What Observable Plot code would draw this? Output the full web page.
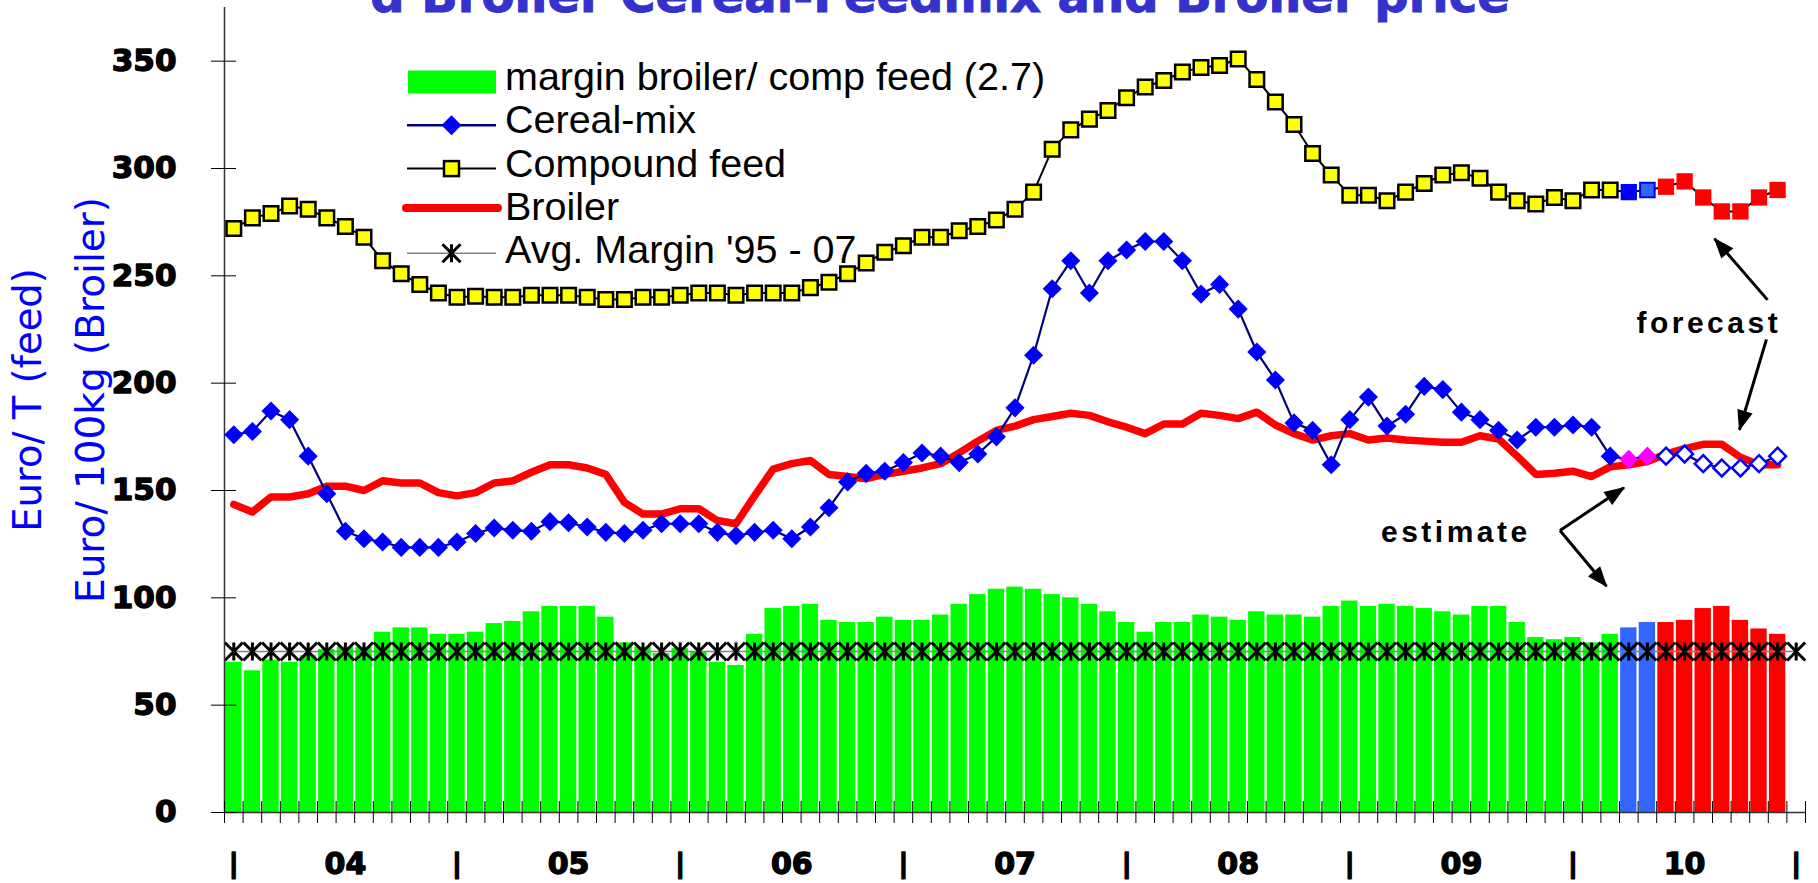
<!DOCTYPE html>
<html><head><meta charset="utf-8">
<script src="https://cdn.jsdelivr.net/npm/d3@7"></script>
<script src="https://cdn.jsdelivr.net/npm/@observablehq/plot@0.6"></script>
<style>
html,body{margin:0;padding:0;background:#fff;}
#wrap{position:relative;width:1818px;height:883px;overflow:hidden;}
#overlay{position:absolute;left:0;top:0;pointer-events:none;}
</style></head><body><div id="wrap"></div>
<script>
// ---------------- data (monthly, Jan 2004 .. Dec 2010) ----------------
const marginBroiler = [70,66,71,70,73,76,77,77,84,86, 86,83,83,84,88,89,93.5,96,96,96,
  91,79,77,74,76.5,75,70,68.5,83,95, 96,97,89.5,88.5,88.5,91,89.5,89.5,92,97,
  101.5,104,105,104,101.5,100,97,93.5,88.5,84, 88.5,88.5,92,91,89.5,93.5,92,92,91,96,
  98.5,96,97,96,95,93.5,92,96,96,88.5, 81.5,80.5,81.5,79,83,86,88.5,88.5,89.5,95,
  96,89.5,85.5,83];
const compoundFeed = [272,277,279,282.5,281,277,273,268,257,251, 246,242,240,240.5,240,240,241,241,241,240,
  239,239,240,240,241,242,242,241,242,242, 242,244.5,247,251,256,261,264,268,268,271,
  273,276,281,289,309,318,323,327,333,338, 341,345,347,348,351,341.5,331,320.5,307,297,
  287.5,287.5,285,289,293,297,298,295.5,289,285, 283.5,286.5,285,290,290,289,290,291.5,294,286.5,
  280,280,286.5,290];
const cerealMix = [176,177.5,187,183,166,148.5,131,127.5,126,123.5, 123.5,123.5,126,130,132.5,131.5,131,135.5,135,133,
  130.5,130,131.5,134.5,134.5,134.5,130.5,129,130.5,131.5, 127.5,133,142,154,158,159,163,167.5,166,163,
  167,175,188.5,213,244,257,242,257,262,266, 266,257,241.5,246,234.5,214.5,201.5,181.5,178,162,
  183,193.5,180,185.5,198.5,197,186.5,183,178,173.5, 179.5,179.5,180.5,179.5,166,164.5,166,166,167,162.5,
  160.5,160.5,162.5,166];
const broilerPrice = [143.5,140,147,147,148.5,152,152,150,154.5,153.5, 153.5,149,147.5,149,153.5,154.5,158.5,162,162,160.5,
  157.5,144.5,139,139,141.5,141.5,136,134.5,147.5,160, 162.5,164,157.5,156.5,155.5,157.5,159,160.5,162.5,167.5,
  173,178,180,183,184.5,186,185,182,179.5,176.5, 181,181,186,185,183.5,186.5,180.5,176.5,173.5,175.5,
  176.5,173.5,174.5,173.5,173,172.5,172.5,175.5,174,166, 157.5,158,159,156.5,161,162,163.5,167,169.5,171.5,
  171.5,165.5,162,162];
const avgMargin = 75;                       // Avg. Margin '95 - 07
const estimateMonths = ["2010-04", "2010-05"];
const forecastStart = "2010-06";
const firstYear = 2004, lastAxisMonth = "2011-01";

const yTicks = [0, 50, 100, 150, 200, 250, 300, 350];
const yearLabels = ["04", "05", "06", "07", "08", "09", "10"];

const legendItems = ["margin broiler/ comp feed (2.7)", "Cereal-mix", "Compound feed", "Broiler", "Avg. Margin '95 - 07"];
const titleText = "d Broiler Cereal-Feedmix and Broiler price";
const yLabels = ["Euro/ T (feed)", "Euro/ 100kg (Broiler)"];

// annotation positions (x in month slots, y in chart units)
const notes = [{text: "forecast", x: 79.8, y: 228}, {text: "estimate", x: 66.2, y: 130.3}];
const arrows = [
  {x1: 82.96, y1: 238.8, x2: 80.11, y2: 267.3},
  {x1: 82.9, y1: 220.4, x2: 81.45, y2: 178.3},
  {x1: 71.8, y1: 131.4, x2: 75.24, y2: 151.3},
  {x1: 71.8, y1: 131.4, x2: 74.3, y2: 105.4}
];

// ---------------- derived ----------------
const monthKey = i => `${firstYear + Math.floor(i / 12)}-${String(i % 12 + 1).padStart(2, "0")}`;
const months = marginBroiler.map((_, i) => monthKey(i));
let nSlots = 0; while (monthKey(nSlots) <= lastAxisMonth) nSlots++;   // 85 slots on the axis
const data = months.map((m, i) => ({
  m, i,
  margin: marginBroiler[i], compound: compoundFeed[i], cereal: cerealMix[i], broiler: broilerPrice[i],
  status: estimateMonths.includes(m) ? "estimate" : (m >= forecastStart ? "forecast" : "actual")
}));
const slots = d3.range(nSlots).map(i => ({i, avg: avgMargin}));
const X = d => d.i + 0.5;
const isA = d => d.status === "actual", isE = d => d.status === "estimate", isF = d => d.status === "forecast";

const W = 1818, H = 883, mL = 224, mR = 13, mT = 7, mB = 71;
const xDomain = [0, nSlots], yDomain = [0, 375];
const sx = Plot.scale({x: {type: "linear", domain: xDomain, range: [mL, W - mR]}});
const sy = Plot.scale({y: {type: "linear", domain: yDomain, range: [H - mB, mT]}});
arrows.forEach(a => {
  const dx = sx.apply(a.x2) - sx.apply(a.x1), dy = sy.apply(a.y2) - sy.apply(a.y1);
  a.angle = Math.atan2(dx, -dy) * 180 / Math.PI;
});

const asterisk = {draw(ctx, size) {
  const r = Math.sqrt(size / Math.PI);
  ctx.moveTo(-r, -r); ctx.lineTo(r, r);
  ctx.moveTo(-r, r); ctx.lineTo(r, -r);
  ctx.moveTo(0, -r); ctx.lineTo(0, r);
}};
// filled arrowhead with its tip at the origin, pointing up
const arrowHead = {draw(ctx, size) {
  const r = Math.sqrt(size / Math.PI);
  ctx.moveTo(0, 0);
  ctx.lineTo(-0.4 * r, 1.05 * r);
  ctx.lineTo(0.4 * r, 1.05 * r);
  ctx.closePath();
}};

const axisColor = "#333";
const sepTicks = d3.range(0, nSlots, 12).map(i => i + 0.5);
const yearTicks = yearLabels.map((_, k) => k * 12 + 6.5);
const yearMap = new Map(yearTicks.map((t, k) => [t, yearLabels[k]]));

const chart = Plot.plot({
  width: W, height: H,
  marginLeft: mL, marginRight: mR, marginTop: mT, marginBottom: mB,
  style: {fontFamily: "DejaVu Sans", background: "white"},
  x: {type: "linear", domain: xDomain},
  y: {type: "linear", domain: yDomain},
  marks: [
    // bars
    Plot.rect(data, {filter: isA, x1: d => d.i + 0.06, x2: d => d.i + 0.94, y1: 0, y2: "margin", fill: "#00ff00"}),
    Plot.rect(data, {filter: isE, x1: d => d.i + 0.06, x2: d => d.i + 0.94, y1: 0, y2: "margin", fill: "#3366ff"}),
    Plot.rect(data, {filter: isF, x1: d => d.i + 0.06, x2: d => d.i + 0.94, y1: 0, y2: "margin", fill: "#ff0000"}),
    // average margin
    Plot.line(slots, {x: X, y: "avg", stroke: "#808080", strokeWidth: 1.5}),
    Plot.dot(slots, {x: X, y: "avg", symbol: asterisk, r: 9, fill: "none", stroke: "#000", strokeWidth: 3}),
    // axes
    Plot.ruleX([0], {stroke: axisColor, strokeWidth: 1.5}),
    Plot.ruleY([0], {stroke: axisColor, strokeWidth: 1.5}),
    Plot.axisY({ticks: yTicks, tickSize: 13, tickPadding: 35, fontSize: 31, fontWeight: "bold", color: "#000", label: null}),
    Plot.axisY({ticks: yTicks, tickSize: -12, tickFormat: () => "", color: "#000", label: null}),
    Plot.axisX({ticks: d3.range(0, nSlots + 1), tickSize: 11, tickFormat: () => "", color: "#000", label: null}),
    Plot.axisX({ticks: d3.range(0, nSlots + 1), tickSize: -11, tickFormat: () => "", color: "#000", label: null}),
    Plot.axisX({ticks: yearTicks, tickSize: 0, tickPadding: 40, tickFormat: d => yearMap.get(d), fontSize: 30, fontWeight: "bold", color: "#000", label: null}),
    Plot.axisX({ticks: sepTicks, tickSize: 0, tickPadding: 40, tickFormat: () => "|", fontSize: 27, fontWeight: "bold", color: "#000", label: null}),
    // compound feed
    Plot.line(data, {x: X, y: "compound", stroke: "#000", strokeWidth: 2}),
    Plot.dot(data, {filter: isA, x: X, y: "compound", symbol: "square", r: 8.2, fill: "#ffff00", stroke: "#000", strokeWidth: 2.5}),
    Plot.dot(data, {filter: d => d.m === estimateMonths[0], x: X, y: "compound", symbol: "square", r: 9.2, fill: "#0000ff"}),
    Plot.dot(data, {filter: d => d.m === estimateMonths[1], x: X, y: "compound", symbol: "square", r: 8.2, fill: "#3366ff", stroke: "#0000ff", strokeWidth: 2}),
    Plot.dot(data, {filter: isF, x: X, y: "compound", symbol: "square", r: 9.2, fill: "#ff0000"}),
    // broiler
    Plot.line(data, {x: X, y: "broiler", stroke: "#ff0000", strokeWidth: 7.5, strokeLinejoin: "round"}),
    // cereal-mix
    Plot.line(data, {x: X, y: "cereal", stroke: "#000080", strokeWidth: 2.2}),
    Plot.dot(data, {filter: isA, x: X, y: "cereal", symbol: "diamond2", r: 8.6, fill: "#0000ff"}),
    Plot.dot(data, {filter: isE, x: X, y: "cereal", symbol: "diamond2", r: 8.6, fill: "#ff00ff"}),
    Plot.dot(data, {filter: isF, x: X, y: "cereal", symbol: "diamond2", r: 7.6, fill: "#fff", stroke: "#0000ff", strokeWidth: 2.5}),
    // annotations
    Plot.link(arrows, {x1: "x1", y1: "y1", x2: "x2", y2: "y2", stroke: "#000", strokeWidth: 3}),
    Plot.dot(arrows, {x: "x2", y: "y2", rotate: "angle", symbol: arrowHead, r: 18, fill: "#000", stroke: "#000", strokeWidth: 1}),
    Plot.text(notes, {x: "x", y: "y", text: "text", fontSize: 30, fontWeight: "bold", fontFamily: "Liberation Sans, Arial, sans-serif", fill: "#000"})
  ]
});
d3.select(chart).selectAll("text").filter(function() { return notes.some(n => n.text === this.textContent); })
  .attr("letter-spacing", 3.5);
// heavier tick labels
d3.select(chart).selectAll('g[aria-label="y-axis tick label"] text, g[aria-label="x-axis tick label"] text')
  .attr("stroke", "#000").attr("stroke-width", 1.4).attr("stroke-linejoin", "round");

const wrap = document.getElementById("wrap");
wrap.appendChild(chart);

// ---------------- overlay: title, y labels, legend ----------------
const svg = d3.select(wrap).append("svg").attr("id", "overlay").attr("width", W).attr("height", H);
svg.append("text").attr("x", 940).attr("y", 12).attr("text-anchor", "middle")
  .attr("font-family", "DejaVu Sans").attr("font-weight", "bold").attr("font-size", 48).attr("fill", "#3333cc")
  .attr("stroke", "#3333cc").attr("stroke-width", 1).text(titleText);
[[41, yLabels[0], 38.5], [104, yLabels[1], 39]].forEach(([x, t, fs]) => {
  svg.append("text").attr("transform", `translate(${x},400) rotate(-90)`).attr("text-anchor", "middle")
    .attr("font-family", "DejaVu Sans").attr("font-size", fs).attr("fill", "#0000ff").text(t);
});
const lg = svg.append("g");
const rowY = k => 82 + k * 43.3;
legendItems.forEach((t, k) => {
  lg.append("text").attr("x", 505).attr("y", rowY(k) + 8).attr("font-family", "Liberation Sans, Arial, sans-serif")
    .attr("font-size", 39.5).attr("fill", "#000").text(t);
});
// symbols
lg.append("rect").attr("x", 408).attr("y", rowY(0) - 11.5).attr("width", 88).attr("height", 23).attr("fill", "#00ff00");
lg.append("line").attr("x1", 407).attr("x2", 496).attr("y1", rowY(1)).attr("y2", rowY(1)).attr("stroke", "#000080").attr("stroke-width", 2.5);
lg.append("path").attr("d", `M451.5,${rowY(1) - 10}l10,10l-10,10l-10,-10z`).attr("fill", "#0000ff");
lg.append("line").attr("x1", 407).attr("x2", 496).attr("y1", rowY(2)).attr("y2", rowY(2)).attr("stroke", "#000").attr("stroke-width", 2);
lg.append("rect").attr("x", 444).attr("y", rowY(2) - 7.5).attr("width", 15).attr("height", 15).attr("fill", "#ffff00").attr("stroke", "#000").attr("stroke-width", 2.5);
lg.append("line").attr("x1", 406).attr("x2", 498).attr("y1", rowY(3) - 4).attr("y2", rowY(3) - 4).attr("stroke", "#ff0000").attr("stroke-width", 8).attr("stroke-linecap", "round");
lg.append("line").attr("x1", 407).attr("x2", 496).attr("y1", rowY(4) - 2).attr("y2", rowY(4) - 2).attr("stroke", "#808080").attr("stroke-width", 1.5);
lg.append("path").attr("d", `M442.5,${rowY(4) - 11}l18,18M442.5,${rowY(4) + 7}l18,-18M451.5,${rowY(4) - 11}v18`).attr("stroke", "#000").attr("stroke-width", 3).attr("fill", "none");
</script>
</body></html>
